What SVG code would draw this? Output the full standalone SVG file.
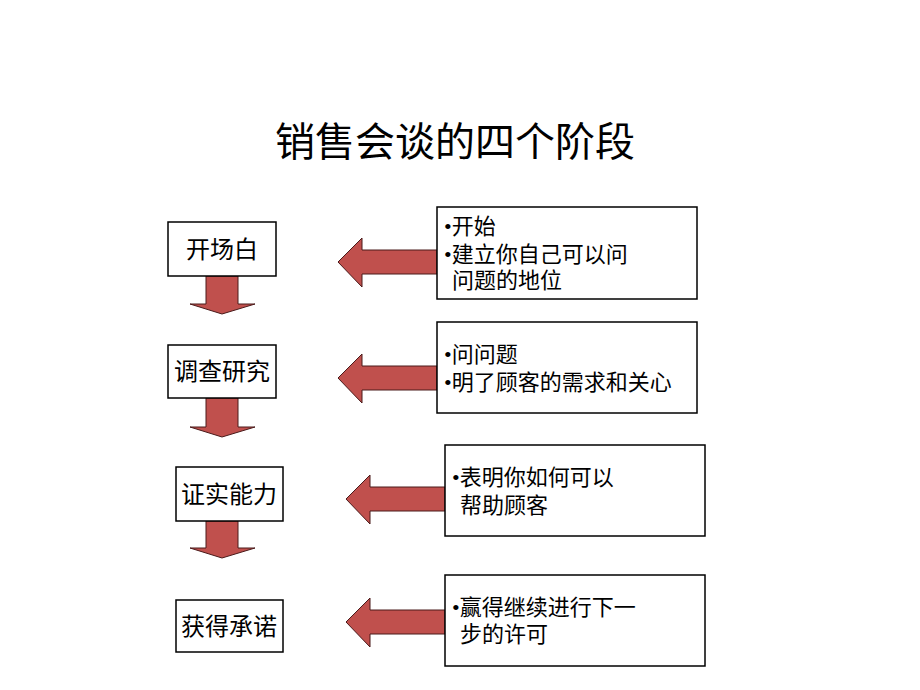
<svg xmlns="http://www.w3.org/2000/svg" width="920" height="690" viewBox="0 0 920 690">
<style>
text{font-family:"Liberation Serif","Noto Sans CJK SC",serif;fill:#000}
.box{fill:#fff;stroke:#000;stroke-width:1.5}
.arr{fill:#C0504D;stroke:#4a1a1a;stroke-width:1}
.l{font-size:24px;text-anchor:middle}
.r{font-size:22px}
</style>
<rect width="920" height="690" fill="#fff"/>
<text x="455" y="156" font-size="40" text-anchor="middle">销售会谈的四个阶段</text>
<g id="connectors">
<path class="arr" d="M206,276H238V304H255L222,314L190,304H206Z"/>
<path class="arr" d="M206,398H238V427H255L222,437L190,427H206Z"/>
<path class="arr" d="M206,521H238V548H255L222,558L190,548H206Z"/>
<path class="arr" d="M437,250H362V238L338,262L362,287V274H437Z"/>
<path class="arr" d="M437,366H362V354L338,378L362,403V390H437Z"/>
<path class="arr" d="M445,487H370V475L346,499L370,524V511H445Z"/>
<path class="arr" d="M445,610H370V598L346,622L370,647V634H445Z"/>
</g>
<g id="n1"><rect class="box" x="168" y="222" width="108" height="54"/><text class="l" x="222" y="258">开场白</text></g>
<g id="n2"><rect class="box" x="168" y="345" width="108" height="53"/><text class="l" x="222" y="380">调查研究</text></g>
<g id="n3"><rect class="box" x="176" y="467" width="107" height="54"/><text class="l" x="229" y="503">证实能力</text></g>
<g id="n4"><rect class="box" x="176" y="600" width="107" height="52"/><text class="l" x="229" y="635">获得承诺</text></g>
<g id="d1"><rect class="box" x="437" y="207" width="260" height="92"/>
<text class="r" x="444" y="234">•开始</text><text class="r" x="444" y="262">•建立你自己可以问</text><text class="r" x="452" y="288">问题的地位</text></g>
<g id="d2"><rect class="box" x="437" y="322" width="260" height="91"/>
<text class="r" x="444" y="362">•问问题</text><text class="r" x="444" y="390">•明了顾客的需求和关心</text></g>
<g id="d3"><rect class="box" x="445" y="445" width="260" height="91"/>
<text class="r" x="452" y="485">•表明你如何可以</text><text class="r" x="460" y="513">帮助顾客</text></g>
<g id="d4"><rect class="box" x="445" y="575" width="260" height="91"/>
<text class="r" x="452" y="615">•赢得继续进行下一</text><text class="r" x="460" y="642">步的许可</text></g>
</svg>
